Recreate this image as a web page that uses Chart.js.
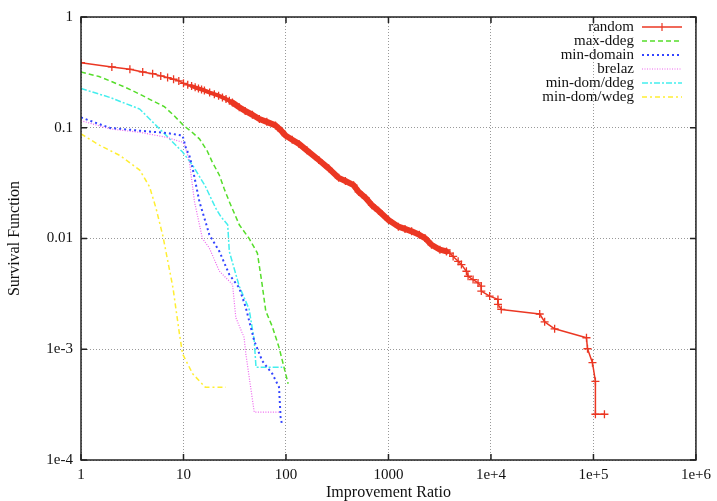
<!DOCTYPE html>
<html>
<head>
<meta charset="utf-8">
<script src="https://cdn.jsdelivr.net/npm/chart.js@4.4.1/dist/chart.umd.min.js"></script>
<style>
  html, body { margin: 0; padding: 0; background: #fff; }
  #chart { display: block; }
</style>
</head>
<body>
<canvas id="chart" width="717" height="501"></canvas>
<script>
// tick labels (gnuplot style)
const xTickValues = [1, 10, 100, 1000, 1e4, 1e5, 1e6];
const xTickLabels = ['1', '10', '100', '1000', '1e+4', '1e+5', '1e+6'];
const yTickValues = [1e-4, 1e-3, 0.01, 0.1, 1];
const yTickLabels = ['1e-4', '1e-3', '0.01', '0.1', '1'];

// [improvement ratio, survival]
const randomData = [
  [1, 0.387], [2, 0.354], [3, 0.337], [4, 0.319], [5, 0.308], [6, 0.294], [7, 0.284],
  [8, 0.274], [9, 0.265], [10, 0.252], [11, 0.244], [12, 0.238], [13, 0.232], [14, 0.226],
  [15, 0.222], [16, 0.217], [18, 0.208], [20, 0.201], [22, 0.195], [24, 0.188], [26, 0.182],
  [28, 0.175], [30, 0.169], [35, 0.153], [40, 0.142], [47, 0.131], [55, 0.12], [65, 0.113],
  [79, 0.105], [90, 0.094], [99, 0.085], [115, 0.078], [134, 0.0715], [160, 0.0625],
  [209, 0.0511], [261, 0.043], [327, 0.0353], [380, 0.033], [457, 0.0303], [511, 0.0264],
  [600, 0.0232], [689, 0.02], [800, 0.0178], [1000, 0.0147], [1250, 0.0128], [1450, 0.0122],
  [1683, 0.0116], [2000, 0.0108], [2270, 0.0101], [2630, 0.00878], [3177, 0.00792],
  [3680, 0.00764], [3970, 0.00738], [4275, 0.00689], [4786, 0.00622], [5150, 0.00581],
  [5760, 0.00506], [5980, 0.00456], [6690, 0.00426], [7480, 0.00397], [8050, 0.00371],
  [8050, 0.00335], [9710, 0.00302], [11700, 0.00282], [11700, 0.00254], [12600, 0.00229],
  [29900, 0.00208], [33400, 0.00177], [41800, 0.00153], [85500, 0.00127], [87500, 0.00101],
  [97800, 0.000757], [104500, 0.000512], [104500, 0.000259], [128000, 0.000259]
];
const maxDdegData = [
  [1, 0.319], [1.5, 0.29], [1.91, 0.265], [2.7, 0.232], [3.74, 0.201], [5, 0.175],
  [6.5, 0.155], [8, 0.13], [10, 0.105], [12, 0.092], [14.3, 0.0794], [17, 0.062],
  [19.1, 0.049], [22.4, 0.0373], [25, 0.028], [28, 0.0215], [35, 0.0133], [43.7, 0.01],
  [52.6, 0.00738], [58.5, 0.00385], [63.5, 0.00221], [73.6, 0.0016], [85.5, 0.00104],
  [105, 0.000488]
];
const minDomainData = [
  [1, 0.124], [1.5, 0.108], [1.91, 0.1], [3.74, 0.094], [6.8, 0.0898], [9.8, 0.0851],
  [10.6, 0.0646], [11.4, 0.0563], [12.3, 0.0427], [14.3, 0.0215], [17.9, 0.0108],
  [22.4, 0.00764], [28, 0.00472], [35, 0.00358], [40.6, 0.00237], [49, 0.00119],
  [58.5, 0.000788], [73.6, 0.0006], [85.5, 0.000455], [88.6, 0.000245], [90.8, 0.000216]
];
const brelazData = [
  [1, 0.116], [1.91, 0.0977], [3.74, 0.091], [6.8, 0.082], [9.8, 0.074], [10.3, 0.07],
  [11.4, 0.05], [12.8, 0.0215], [15.3, 0.01], [17.9, 0.00818], [22.4, 0.00506],
  [30.1, 0.00385], [32.4, 0.00193], [39, 0.00128], [40.6, 0.000905], [49, 0.000271],
  [85, 0.000271]
];
const minDomDdegData = [
  [1, 0.226], [1.91, 0.188], [3.74, 0.1475], [5.4, 0.105], [6.8, 0.085], [9.8, 0.0603],
  [12.3, 0.0458], [16.3, 0.0297], [20.7, 0.0187], [23.2, 0.0157], [27, 0.0133],
  [28, 0.00764], [35, 0.0037], [43.7, 0.0023], [49, 0.0012], [51, 0.000687], [92, 0.000687]
];
const minDomWdegData = [
  [1, 0.088], [1.53, 0.0692], [2.39, 0.0563], [3.74, 0.0415], [4.67, 0.0293], [5.4, 0.0187],
  [6.3, 0.0105], [7.9, 0.00358], [9.14, 0.00137], [9.8, 0.000905], [12.3, 0.0006],
  [16.3, 0.000455], [25.9, 0.000455]
];

const toXY = arr => arr.map(p => ({ x: p[0], y: p[1] }));
const FONT = '"Liberation Serif", "DejaVu Serif", serif';

// frame, inward ticks, axis titles and gnuplot-like key
const framePlugin = {
  id: 'frame',
  afterDatasetsDraw(chart) {
    const { ctx, chartArea: a, scales } = chart;
    ctx.save();
    ctx.strokeStyle = '#222';
    ctx.lineWidth = 1.5;
    ctx.setLineDash([]);
    ctx.strokeRect(a.left, a.top, a.right - a.left, a.bottom - a.top);
    ctx.beginPath();
    xTickValues.forEach(v => {
      const px = scales.x.getPixelForValue(v);
      ctx.moveTo(px, a.bottom); ctx.lineTo(px, a.bottom - 6);
      ctx.moveTo(px, a.top); ctx.lineTo(px, a.top + 6);
    });
    yTickValues.forEach(v => {
      const py = scales.y.getPixelForValue(v);
      ctx.moveTo(a.left, py); ctx.lineTo(a.left + 6, py);
      ctx.moveTo(a.right, py); ctx.lineTo(a.right - 6, py);
    });
    ctx.stroke();

    // axis titles
    ctx.fillStyle = '#111';
    ctx.font = '16px ' + FONT;
    ctx.textAlign = 'center';
    ctx.textBaseline = 'middle';
    ctx.fillText('Improvement Ratio', (a.left + a.right) / 2, 493);
    ctx.save();
    ctx.translate(15, (a.top + a.bottom) / 2);
    ctx.rotate(-Math.PI / 2);
    ctx.fillText('Survival Function', 0, 0);
    ctx.restore();

    // key
    ctx.font = '15px ' + FONT;
    ctx.textAlign = 'right';
    chart.data.datasets.forEach((ds, i) => {
      const y = 27 + i * 14;
      ctx.fillStyle = '#111';
      ctx.fillText(ds.label, 634, y);
      ctx.strokeStyle = ds.borderColor;
      ctx.lineWidth = ds.keyWidth;
      ctx.setLineDash(ds.borderDash || []);
      ctx.beginPath();
      ctx.moveTo(642, y); ctx.lineTo(682, y);
      ctx.stroke();
      if (ds.pointStyle === 'cross') {
        ctx.setLineDash([]);
        ctx.lineWidth = 1.2;
        ctx.beginPath();
        ctx.moveTo(662, y - 4); ctx.lineTo(662, y + 4);
        ctx.stroke();
      }
    });
    ctx.restore();
  }
};

const redWidth = c => {
  const x0 = c.p0.parsed.x, x1 = c.p1.parsed.x;
  if (x0 >= 30 && x1 <= 3700) return 6;
  if (x0 >= 12 && x1 <= 3700) return 4;
  return 1.5;
};

new Chart(document.getElementById('chart').getContext('2d'), {
  type: 'scatter',
  data: {
    datasets: [
      {
        label: 'random', data: toXY(randomData), showLine: true,
        borderColor: 'rgb(235,55,35)', backgroundColor: 'rgb(235,55,35)',
        borderWidth: 1.5, keyWidth: 1.5, pointStyle: 'cross', pointRadius: 4,
        pointBorderWidth: 1.3, borderJoinStyle: 'round', borderCapStyle: 'round',
        segment: { borderWidth: redWidth }
      },
      {
        label: 'max-ddeg', data: toXY(maxDdegData), showLine: true,
        borderColor: '#55dd2a', borderWidth: 1.5, keyWidth: 1.5, borderDash: [5, 3], pointRadius: 0
      },
      {
        label: 'min-domain', data: toXY(minDomainData), showLine: true,
        borderColor: '#3344ff', borderWidth: 2, keyWidth: 2, borderDash: [2, 3], pointRadius: 0
      },
      {
        label: 'brelaz', data: toXY(brelazData), showLine: true,
        borderColor: '#ee66ee', borderWidth: 1.2, keyWidth: 1.2, borderDash: [1, 1.5], pointRadius: 0
      },
      {
        label: 'min-dom/ddeg', data: toXY(minDomDdegData), showLine: true,
        borderColor: '#44eeee', borderWidth: 1.5, keyWidth: 1.5, borderDash: [6, 2, 2, 2], pointRadius: 0
      },
      {
        label: 'min-dom/wdeg', data: toXY(minDomWdegData), showLine: true,
        borderColor: '#ffee33', borderWidth: 1.5, keyWidth: 1.5, borderDash: [5, 3, 2, 3], pointRadius: 0
      }
    ]
  },
  options: {
    responsive: false,
    animation: false,
    layout: { padding: { left: 0, top: 14, right: 18, bottom: 0 } },
    plugins: { legend: { display: false }, tooltip: { enabled: false } },
    scales: {
      x: {
        type: 'logarithmic', min: 1, max: 1e6,
        afterBuildTicks: s => { s.ticks = xTickValues.map(v => ({ value: v })); },
        afterFit: s => { s.height = 41; },
        ticks: {
          autoSkip: false, maxRotation: 0, padding: 6, color: '#111',
          font: { family: FONT, size: 15 },
          callback: (v, i) => xTickLabels[i]
        },
        grid: { color: '#999', lineWidth: 1, drawTicks: false },
        border: { display: false, dash: [1, 2] }
      },
      y: {
        type: 'logarithmic', min: 1e-4, max: 1,
        afterBuildTicks: s => { s.ticks = yTickValues.map(v => ({ value: v })); },
        afterFit: s => { s.width = 81; },
        ticks: {
          autoSkip: false, padding: 8, color: '#111',
          font: { family: FONT, size: 15 },
          callback: (v, i) => yTickLabels[i]
        },
        grid: { color: '#999', lineWidth: 1, drawTicks: false },
        border: { display: false, dash: [1, 2] }
      }
    }
  },
  plugins: [framePlugin]
});
</script>
</body>
</html>
